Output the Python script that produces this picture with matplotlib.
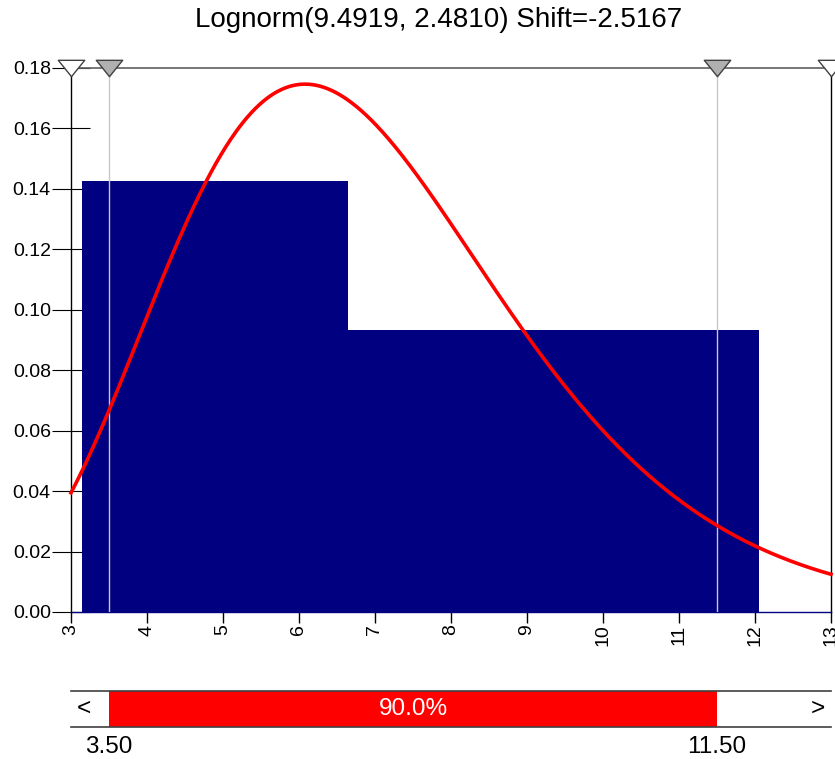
import numpy as np
import matplotlib.pyplot as plt
from matplotlib.path import Path

plt.rcParams['font.family'] = ['Liberation Sans', 'DejaVu Sans']

# fitted distribution (from the title)
dist_mean = 9.4919
dist_sd = 2.4810
dist_shift = -2.5167

# histogram bins
bin_edges = [3.15, 6.65, 12.05]
bin_density = [0.1425, 0.0933]

# delimiters of the 90% band
lo_mark = 3.50
hi_mark = 11.50
band_pct = "90.0%"

x_ticks = [3, 4, 5, 6, 7, 8, 9, 10, 11, 12, 13]
y_ticks = [0.00, 0.02, 0.04, 0.06, 0.08, 0.10, 0.12, 0.14, 0.16, 0.18]

# lognormal pdf from the fitted mean / std dev
s2 = np.log(1 + (dist_sd / dist_mean) ** 2)
mu = np.log(dist_mean) - s2 / 2
xs = np.linspace(3, 13, 600)
z = xs - dist_shift
pdf = np.exp(-(np.log(z) - mu) ** 2 / (2 * s2)) / (z * np.sqrt(2 * np.pi * s2))

W, H = 835, 759
fig = plt.figure(figsize=(W / 100, H / 100), dpi=100)
ax = fig.add_axes([71 / W, 1 - 612 / H, 760 / W, 544 / H])

# histogram as a step polygon
ax.fill_between(bin_edges, bin_density + [bin_density[-1]], step='post',
                color='#000080', linewidth=0, zorder=1)
ax.plot([3, 13], [0, 0], color='#000080', lw=1, zorder=1.5, clip_on=False)

for v in (lo_mark, hi_mark):
    ax.axvline(v, color='#c8c8c8', lw=1, zorder=2)

ax.plot(xs, pdf, color='red', lw=2.6, zorder=3, clip_on=False)

ax.set_xlim(3, 13)
ax.set_ylim(0, 0.18)
ax.set_axisbelow(True)
ax.set_xticks(x_ticks)
ax.set_xticklabels([str(t) for t in x_ticks], rotation=90, fontsize=14)
ax.set_yticks(y_ticks)
ax.set_yticklabels([f"{t:.2f}" for t in y_ticks], fontsize=14)
ax.tick_params(axis='y', direction='inout', length=27, width=0.8, pad=1)
ax.tick_params(axis='x', direction='out', length=8, width=1, pad=1)
for side in ('left', 'right'):
    ax.spines[side].set_color('black')
    ax.spines[side].set_linewidth(1)
ax.spines['top'].set_color('#606060')
ax.spines['top'].set_linewidth(1.2)
ax.spines['bottom'].set_visible(False)

# triangle markers on the top edge
tri = Path([(-1, 0.62), (1, 0.62), (0, -0.62), (-1, 0.62)],
           [Path.MOVETO, Path.LINETO, Path.LINETO, Path.CLOSEPOLY])
for xv, fc in ((3, 'white'), (lo_mark, '#b0b0b0'), (hi_mark, '#b0b0b0'), (13, 'white')):
    ax.plot([xv], [0.18], marker=tri, markersize=19, markerfacecolor=fc,
            markeredgecolor='#404040', markeredgewidth=1, clip_on=False, zorder=5)

fig.text(439 / W, 1 - 20 / H, f"Lognorm({dist_mean:.4f}, {dist_sd:.4f}) Shift={dist_shift:.4f}",
         ha='center', va='center', fontsize=20)

# delimiter bar
bx = fig.add_axes([71 / W, 1 - 727 / H, 760 / W, 36 / H])
bx.set_xlim(3, 13)
bx.set_ylim(0, 1)
bx.axvspan(lo_mark, hi_mark, color='red', lw=0)
bx.text((lo_mark + hi_mark) / 2, 0.5, band_pct, color='white', fontsize=17.5,
        ha='center', va='center')
bx.text(3.08, 0.5, "<", fontsize=17.5, ha='left', va='center')
bx.text(12.92, 0.5, ">", fontsize=17.5, ha='right', va='center')
bx.set_xticks([])
bx.set_yticks([])
for side in ('left', 'right'):
    bx.spines[side].set_visible(False)
for side in ('top', 'bottom'):
    bx.spines[side].set_color('#404040')
    bx.spines[side].set_linewidth(1.2)
bx.text(lo_mark, -0.55, f"{lo_mark:.2f}", fontsize=17.5, ha='center', va='center')
bx.text(hi_mark, -0.55, f"{hi_mark:.2f}", fontsize=17.5, ha='center', va='center')

fig.savefig('out.png', dpi=100)
